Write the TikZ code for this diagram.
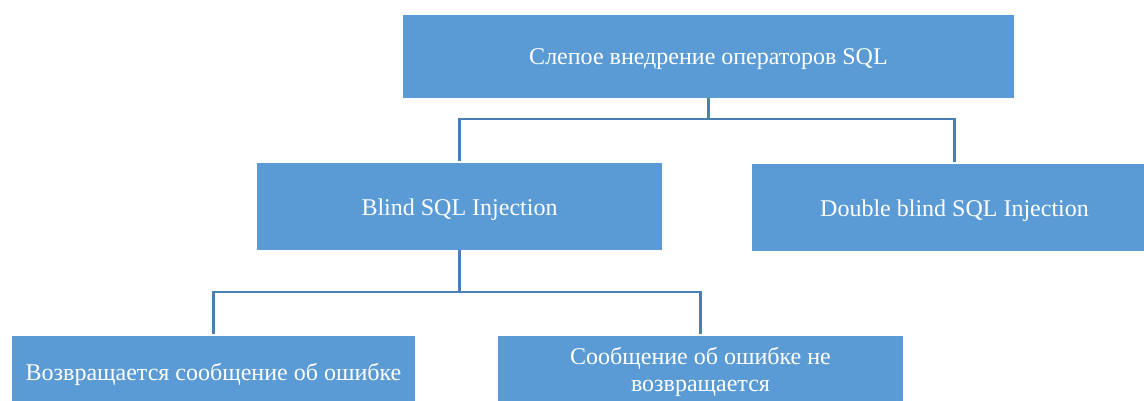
\documentclass[tikz,border=0pt]{standalone}
\usepackage{fontspec}
\setmainfont{Liberation Serif}
\definecolor{boxblue}{HTML}{5B9BD5}
\definecolor{lineblue}{HTML}{4A7EB5}
\begin{document}
\begin{tikzpicture}[x=1pt,y=-1pt,
  box/.style={fill=boxblue, draw=none, text=white, minimum width=405pt,
    inner sep=0pt, align=center, font=\fontsize{24}{27}\selectfont},
  oneline/.style={text height=20pt, text depth=3pt},
  conn/.style={draw=lineblue, line width=2.5pt, shorten >=2pt}]
  \useasboundingbox (0,0) rectangle (1144,401);
  \clip (0,0) rectangle (1144,401);
  % hierarchy boxes
  \node[box, oneline, minimum width=611pt, minimum height=83pt] (root) at (708.5,56.5) {Слепое внедрение операторов SQL};
  \node[box, oneline, minimum height=87pt] (blind) at (459.5,206.5) {Blind SQL Injection};
  \node[box, oneline, minimum height=87pt] (double) at (954.5,207.5) {Double blind SQL Injection};
  \node[box, oneline, minimum width=403pt, minimum height=72pt] (err) at (213.5,372) {Возвращается сообщение об ошибке};
  \node[box, minimum height=72pt] (noerr) at (700.5,372) {Сообщение об ошибке не\\возвращается};
  % tree connectors
  \draw[conn] (root.south) -- ++(0,21) -| (blind.north);
  \draw[conn] (root.south) -- ++(0,21) -| (double.north);
  \draw[conn] (blind.south) -- ++(0,42) -| (err.north);
  \draw[conn] (blind.south) -- ++(0,42) -| (noerr.north);
\end{tikzpicture}
\end{document}
